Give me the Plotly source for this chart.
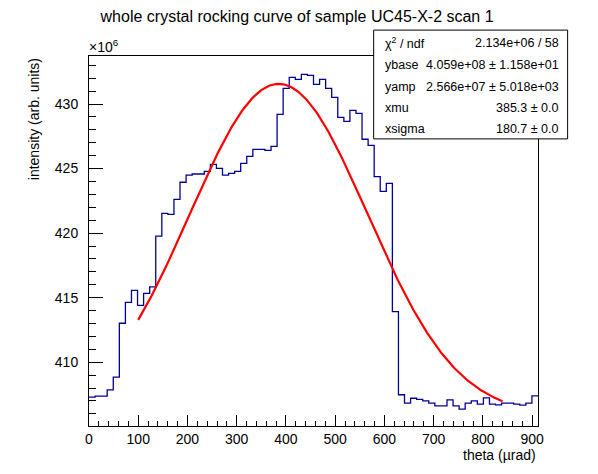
import numpy as np
import plotly.graph_objects as go

# histogram: 74 bins from 0 to 912 urad, contents in units of 1e6
x_min = 0.0
x_max = 912.0
n_bins = 74
counts = [
    407.29, 407.37, 407.37, 407.86, 408.84, 413.02, 414.64, 415.57, 414.41, 415.34,
    415.83, 419.76, 421.53, 421.46, 422.62, 423.94, 424.50, 424.58, 424.58, 424.79,
    425.33, 425.02, 424.50, 424.63, 424.79, 425.41, 425.95, 426.49, 426.49, 426.41,
    426.72, 429.20, 431.21, 432.07, 431.91, 432.30, 432.22, 431.52, 431.91, 431.21,
    430.52, 428.97, 428.66, 429.51, 429.28, 427.27, 426.80, 424.37, 423.24, 423.86,
    413.92, 407.48, 406.83, 407.21, 407.13, 407.00, 406.83, 406.62, 406.62, 407.08,
    406.62, 406.36, 406.83, 407.00, 406.75, 407.24, 406.75, 406.69, 406.83, 406.83,
    406.75, 406.67, 406.83, 407.39,
]

# fit result (gaus + base) from the stats box
ybase = 4.059e+08
yamp = 2.566e+07
xmu = 385.3
xsigma = 180.7
fit_from = 100.0
fit_to = 840.0
scale = 1e6

stat_labels = ["\u03c7<sup>2</sup> / ndf", "ybase", "yamp", "xmu", "xsigma"]
stat_values = ["2.134e+06 / 58", "4.059e+08 \u00b1 1.158e+01",
               "2.566e+07 \u00b1 5.018e+03", "385.3 \u00b1 0.0", "180.7 \u00b1 0.0"]

edges = np.linspace(x_min, x_max, n_bins + 1)
step_y = list(counts) + [counts[-1]]

xf = np.linspace(fit_from, fit_to, 300)
yf = (ybase + yamp * np.exp(-0.5 * ((xf - xmu) / xsigma) ** 2)) / scale

fig = go.Figure()
fig.add_trace(go.Scatter(x=edges, y=step_y, mode="lines", line_shape="hv",
                         line=dict(color="#000099", width=1.3), hoverinfo="skip"))
fig.add_trace(go.Scatter(x=xf, y=yf, mode="lines",
                         line=dict(color="#ff0000", width=2.2), hoverinfo="skip"))

axfont = dict(family="Liberation Sans, Arial, sans-serif", size=14, color="black")

# page body has an 8px margin, so the figure is a bit smaller than the window
fig.update_layout(
    width=590, height=466,
    margin=dict(l=81, r=60, t=48, b=48),
    paper_bgcolor="white", plot_bgcolor="white",
    showlegend=False,
    font=axfont,
    title=dict(text="whole crystal rocking curve of sample UC45-X-2 scan 1",
               x=0.49, xanchor="center", y=0.981, yanchor="middle",
               font=dict(family="Liberation Sans, Arial, sans-serif", size=16, color="black")),
    xaxis=dict(range=[x_min, x_max], showgrid=False, zeroline=False,
               showline=True, linecolor="black", linewidth=1, mirror=True,
               ticks="inside", ticklen=11, tickcolor="black",
               tick0=0, dtick=100, ticklabelstandoff=0,
               minor=dict(ticks="inside", ticklen=5, dtick=20, tickcolor="black"),
               tickfont=axfont),
    yaxis=dict(range=[405.06, 433.72], showgrid=False, zeroline=False,
               showline=True, linecolor="black", linewidth=1, mirror=True,
               ticks="inside", ticklen=14, tickcolor="black",
               tick0=410, dtick=5, ticklabelstandoff=7,
               minor=dict(ticks="inside", ticklen=7, dtick=1, tickcolor="black"),
               tickfont=axfont),
)

annots = [
    dict(text="\u00d710<sup>6</sup>", x=-0.004, y=0.998, xanchor="left", yanchor="bottom",
         font=dict(size=14)),
    dict(text="theta (\u00b5rad)", x=1.0, y=-0.052, xanchor="right", yanchor="top",
         font=dict(size=14)),
    dict(text="intensity (arb. units)", x=-0.122, y=1.0, xanchor="center", yanchor="top",
         textangle=-90, font=dict(size=14)),
]

# stats box rows
row_y = [1.035, 0.976, 0.917, 0.860, 0.802]
for lab, val, yy in zip(stat_labels, stat_values, row_y):
    annots.append(dict(text=lab, x=0.654, y=yy, xanchor="left", yanchor="middle",
                       font=dict(size=12.5)))
    annots.append(dict(text=val, x=1.052, y=yy, xanchor="right", yanchor="middle",
                       font=dict(size=12.5)))

for a in annots:
    a.update(xref="paper", yref="paper", showarrow=False)
fig.update_layout(annotations=annots)

fig.add_shape(type="rect", xref="paper", yref="paper",
              x0=0.634, x1=1.066, y0=0.776, y1=1.070,
              line=dict(color="black", width=1), fillcolor="white", layer="above")

fig.write_html("out.html")
